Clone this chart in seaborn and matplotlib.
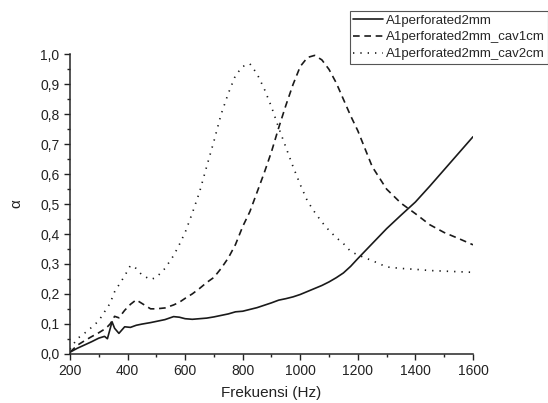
import matplotlib

matplotlib.use("Agg")
import matplotlib.pyplot as plt
import pandas as pd
import seaborn as sns
from matplotlib.ticker import FuncFormatter, MultipleLocator

freq = [200, 225, 250, 275, 300, 320, 330, 340, 346, 355, 370, 390, 410, 430, 450, 480, 500,
        530, 560, 580, 600, 625, 650, 675, 700, 725, 750, 775, 800, 825, 850, 875, 900, 925,
        950, 975, 1000, 1025, 1050, 1075, 1100, 1125, 1150, 1175, 1200, 1250, 1300, 1350,
        1400, 1450, 1500, 1550, 1600]

perforated = [0.005, 0.018, 0.029, 0.040, 0.052, 0.058, 0.050, 0.085, 0.107, 0.085, 0.068,
              0.090, 0.088, 0.095, 0.099, 0.104, 0.108, 0.114, 0.124, 0.122, 0.117, 0.115,
              0.117, 0.119, 0.123, 0.128, 0.133, 0.140, 0.142, 0.148, 0.154, 0.162, 0.170,
              0.179, 0.184, 0.190, 0.198, 0.208, 0.218, 0.228, 0.240, 0.254, 0.270, 0.292,
              0.318, 0.368, 0.418, 0.463, 0.507, 0.560, 0.615, 0.670, 0.725]

cav1cm = [0.005, 0.028, 0.043, 0.057, 0.070, 0.082, 0.090, 0.100, 0.110, 0.125, 0.120,
          0.145, 0.165, 0.180, 0.168, 0.150, 0.150, 0.153, 0.163, 0.172, 0.185, 0.200,
          0.218, 0.238, 0.255, 0.285, 0.320, 0.365, 0.425, 0.475, 0.540, 0.605, 0.675,
          0.755, 0.830, 0.900, 0.960, 0.990, 0.997, 0.982, 0.950, 0.905, 0.850, 0.795,
          0.745, 0.625, 0.550, 0.503, 0.468, 0.431, 0.405, 0.385, 0.364]

cav2cm = [0.015, 0.050, 0.068, 0.088, 0.110, 0.140, 0.154, 0.170, 0.185, 0.207, 0.230,
          0.260, 0.295, 0.285, 0.263, 0.248, 0.255, 0.285, 0.328, 0.365, 0.405, 0.470,
          0.540, 0.626, 0.710, 0.800, 0.870, 0.930, 0.960, 0.969, 0.935, 0.885, 0.825,
          0.755, 0.690, 0.625, 0.565, 0.510, 0.473, 0.440, 0.412, 0.388, 0.368, 0.342,
          0.330, 0.311, 0.290, 0.285, 0.282, 0.278, 0.276, 0.274, 0.272]

series_names = ["A1perforated2mm", "A1perforated2mm_cav1cm", "A1perforated2mm_cav2cm"]

df = pd.concat(
    [
        pd.DataFrame({"freq": freq, "alpha": vals, "series": name})
        for name, vals in zip(series_names, [perforated, cav1cm, cav2cm])
    ],
    ignore_index=True,
)

sns.set_style("ticks")
plt.rcParams["font.family"] = ["Liberation Sans", "DejaVu Sans"]
plt.rcParams["axes.linewidth"] = 1.1

fig = plt.figure(figsize=(5.48, 4.03), dpi=100)
ax = fig.add_axes([0.1277, 0.1223, 0.7354, 0.7425])

dash_styles = {
    series_names[0]: "",
    series_names[1]: (4.0, 2.8),
    series_names[2]: (0.8, 3.6),
}
sns.lineplot(
    data=df, x="freq", y="alpha", style="series", dashes=dash_styles,
    color="#1a1a1a", linewidth=1.2, estimator=None, sort=False, ax=ax, legend=True,
)

ax.set_xlim(200, 1600)
ax.set_ylim(0, 1.0)
ax.xaxis.set_major_locator(MultipleLocator(200))
ax.xaxis.set_minor_locator(MultipleLocator(100))
ax.yaxis.set_major_locator(MultipleLocator(0.1))
ax.yaxis.set_minor_locator(MultipleLocator(0.05))
ax.yaxis.set_major_formatter(FuncFormatter(lambda v, _: f"{v:.1f}".replace(".", ",")))
ax.tick_params(which="major", direction="out", length=4, width=1, labelsize=10, colors="#222222")
ax.tick_params(which="minor", direction="out", length=2.5, width=1, colors="#222222")
ax.set_xlabel("Frekuensi (Hz)", fontsize=11, color="#222222", labelpad=6)
ax.set_ylabel("α", fontsize=11, color="#222222", labelpad=12)
sns.despine(ax=ax)

handles, labels = ax.get_legend_handles_labels()
ax.get_legend().remove()
leg = fig.legend(
    handles, labels, loc="upper right", bbox_to_anchor=(1.0, 1 - 11 / 403),
    frameon=True, fancybox=False, framealpha=1, edgecolor="#555555", fontsize=9.5,
    handlelength=2.3, handletextpad=0.2, labelspacing=0.35, borderpad=0.25, borderaxespad=0,
)
leg.get_frame().set_linewidth(0.8)

fig.savefig("out.png", dpi=100)
